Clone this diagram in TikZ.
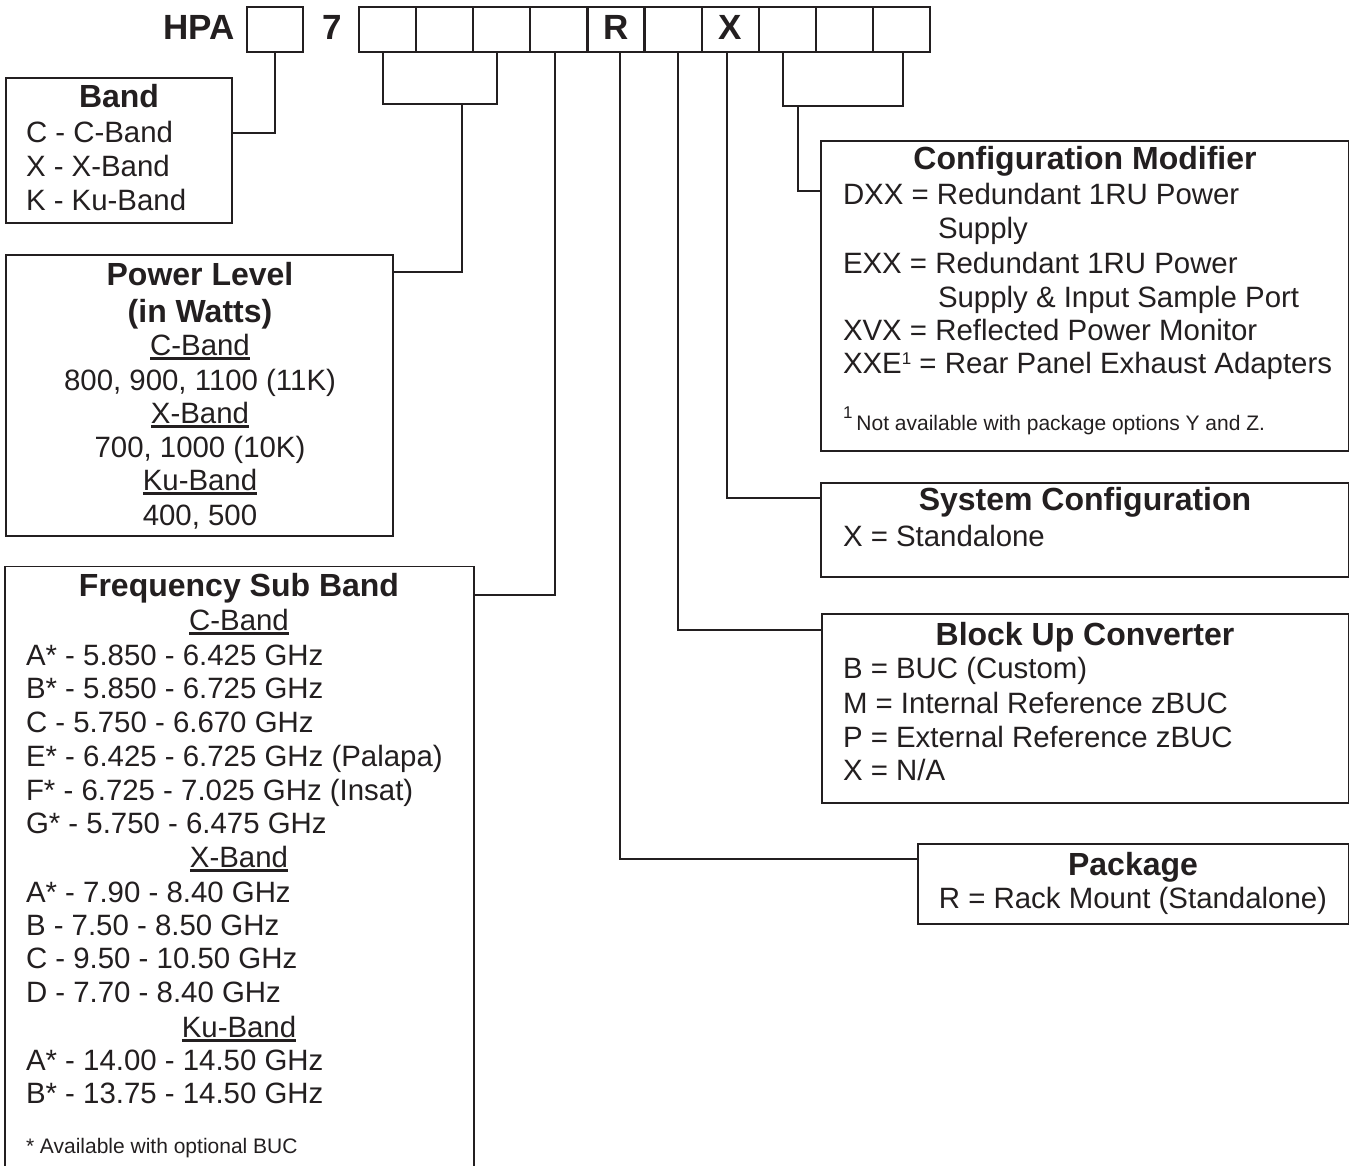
\documentclass[tikz,border=0pt]{standalone}
\usepackage{fontspec}
\setmainfont{Liberation Sans}
\usetikzlibrary{calc}
\definecolor{ink}{RGB}{35,31,32}
\newcommand\fTop{\fontsize{35}{40}\selectfont\bfseries}
\newcommand\fTtl{\fontsize{32}{38}\selectfont\bfseries}
\newcommand\fReg{\fontsize{29.4}{34}\selectfont}
\newcommand\fSm{\fontsize{21}{25}\selectfont}
\newcommand\fSup{\fontsize{17}{17}\selectfont}
\newcommand\uln[1]{\setbox0\hbox{#1}\rlap{\rule[-4.6pt]{\wd0}{2.8pt}}\box0}
\begin{document}
\begin{tikzpicture}[x=1pt,y=-1pt,
  every node/.style={inner sep=0pt, outer sep=0pt, text=ink},
  cell/.style={draw=ink, line width=2.2pt, minimum width=57.1pt, minimum height=45pt},
  ibox/.style={draw=ink, line width=1.8pt, anchor=north west},
  conn/.style={draw=ink, line width=1.4pt},
  toplab/.style={anchor=base, font=\fTop},
  tl/.style={anchor=base, font=\fTtl},
  rl/.style={anchor=base west, font=\fReg},
  cl/.style={anchor=base, font=\fReg},
  sl/.style={anchor=base west, font=\fSm}]
\useasboundingbox (0,0) rectangle (1351,1166);
\fill[white] (0,0) rectangle (1351,1166);
\clip (0,0) rectangle (1351,1166);

% ---- top code line
\node[toplab, anchor=base west] (hpatxt) at (163,40) {HPA};
\node[cell, minimum width=56pt] (hpa) at (275,29.5) {};
\node[toplab] (seven) at (332,40) {7};
\foreach \i in {1,...,10}
  \node[cell] (c\i) at ({359+(\i-0.5)*57.1},29.5) {};
\node[toplab] (lR) at ($(c5.center)+(0,10.5)$) {R};
\node[toplab] (lX) at ($(c7.center)+(0,10.5)$) {X};

% ---- boxes
\node[ibox, minimum width=226pt, minimum height=145pt] (band) at (6,78) {};
\node[ibox, minimum width=387pt, minimum height=281pt] (power) at (6,255) {};
\node[ibox, minimum width=469pt, minimum height=700pt] (freq) at (5,566.5) {};
\node[ibox, minimum width=527.5pt, minimum height=310pt] (cfg) at (821,141) {};
\node[ibox, minimum width=527.5pt, minimum height=94pt] (sys) at (821,483) {};
\node[ibox, minimum width=526.5pt, minimum height=189pt] (buc) at (822,614) {};
\node[ibox, minimum width=430.5pt, minimum height=80pt] (pkg) at (918,844) {};

% ---- Band
\node[tl] (bandT) at (119,108) {Band};
\node[rl] (band1) at (26,143) {C - C-Band};
\node[rl] (band2) at (26,177) {X - X-Band};
\node[rl] (band3) at (26,211) {K - Ku-Band};

% ---- Power level
\node[tl] (powT1) at (200,285) {Power Level};
\node[tl] (powT2) at (200,322) {(in Watts)};
\node[cl] (pow1) at (200,355) {\uln{C-Band}};
\node[cl] (pow2) at (200,390) {800, 900, 1100 (11K)};
\node[cl] (pow3) at (200,423) {\uln{X-Band}};
\node[cl] (pow4) at (200,457) {700, 1000 (10K)};
\node[cl] (pow5) at (200,490) {\uln{Ku-Band}};
\node[cl] (pow6) at (200,525) {400, 500};

% ---- Frequency sub band
\node[tl] (frqT) at (239,596) {Frequency Sub Band};
\node[cl] (fq1) at (239,630) {\uln{C-Band}};
\node[rl] (fq2) at (26,665) {A* - 5.850 - 6.425 GHz};
\node[rl] (fq3) at (26,698) {B* - 5.850 - 6.725 GHz};
\node[rl] (fq4) at (26,732) {C - 5.750 - 6.670 GHz};
\node[rl] (fq5) at (26,766) {E* - 6.425 - 6.725 GHz (Palapa)};
\node[rl] (fq6) at (26,800) {F* - 6.725 - 7.025 GHz (Insat)};
\node[rl] (fq7) at (26,833) {G* - 5.750 - 6.475 GHz};
\node[cl] (fq8) at (239,867) {\uln{X-Band}};
\node[rl] (fq9) at (26,902) {A* - 7.90 - 8.40 GHz};
\node[rl] (fq10) at (26,935) {B - 7.50 - 8.50 GHz};
\node[rl] (fq11) at (26,968) {C - 9.50 - 10.50 GHz};
\node[rl] (fq12) at (26,1002) {D - 7.70 - 8.40 GHz};
\node[cl] (fq13) at (239,1037) {\uln{Ku-Band}};
\node[rl] (fq14) at (26,1070) {A* - 14.00 - 14.50 GHz};
\node[rl] (fq15) at (26,1103) {B* - 13.75 - 14.50 GHz};
\node[sl] (fqn) at (26,1153) {* Available with optional BUC};

% ---- Configuration modifier
\node[tl] (cfgT) at (1085,170) {Configuration Modifier};
\node[rl] (cf1) at (843,205) {DXX = Redundant 1RU Power};
\node[rl] (cf2) at (938,239) {Supply};
\node[rl] (cf3) at (843,273) {EXX = Redundant 1RU Power};
\node[rl] (cf4) at (938,307) {Supply \& Input Sample Port};
\node[rl] (cf5) at (843,340) {XVX = Reflected Power Monitor};
\node[rl] (cf6) at (843,373) {XXE\raisebox{9pt}{\fSup 1} = Rear Panel Exhaust Adapters};
\node[sl] (cfn) at (843,430) {\raisebox{12pt}{\fSup 1}\hspace{4pt}Not available with package options Y and Z.};

% ---- System configuration
\node[tl] (sysT) at (1085,510) {System Configuration};
\node[rl] (sy1) at (843,546) {X = Standalone};

% ---- Block up converter
\node[tl] (bucT) at (1085,645) {Block Up Converter};
\node[rl] (bu1) at (843,678) {B = BUC (Custom)};
\node[rl] (bu2) at (843,713) {M = Internal Reference zBUC};
\node[rl] (bu3) at (843,747) {P = External Reference zBUC};
\node[rl] (bu4) at (843,780) {X = N/A};

% ---- Package
\node[tl] (pkgT) at (1133,875) {Package};
\node[cl] (pk1) at (1133,908) {R = Rack Mount (Standalone)};

% ---- connector coordinates
\coordinate (kb) at (275,133);
\coordinate (pw1) at (383,104);
\coordinate (pw2) at (497,104);
\coordinate (pwm) at (462,272);
\coordinate (fq) at (555,595);
\coordinate (pk) at (620,859);
\coordinate (bu) at (678,630);
\coordinate (sy) at (727,498);
\coordinate (cm1) at (783,106);
\coordinate (cm2) at (903,106);
\coordinate (cmm) at (798,191);

% ---- connectors
\draw[conn] (hpa.south) |- (band.east |- kb);
\draw[conn] (c1.south -| pw1) -- (pw1) -- (pw2) -- (c3.south -| pw2);
\draw[conn] (pw1 -| pwm) |- (power.east |- pwm);
\draw[conn] (c4.south -| fq) |- (freq.east |- fq);
\draw[conn] (c5.south -| pk) |- (pkg.west |- pk);
\draw[conn] (c6.south -| bu) |- (buc.west |- bu);
\draw[conn] (c7.south -| sy) |- (sys.west |- sy);
\draw[conn] (c8.south -| cm1) -- (cm1) -- (cm2) -- (c10.south -| cm2);
\draw[conn] (cm1 -| cmm) |- (cfg.west |- cmm);
\end{tikzpicture}
\end{document}
